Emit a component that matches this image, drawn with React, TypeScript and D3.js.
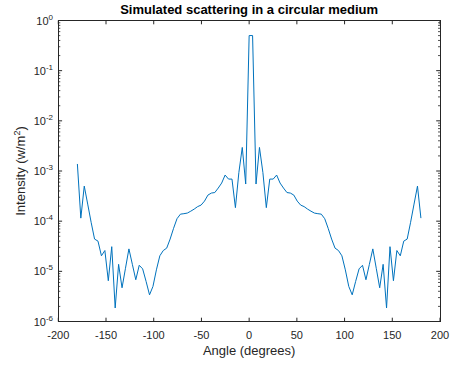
import React from "react";
import * as d3 from "d3";

const angles: number[] = [
  -180, -176.4, -172.8, -169.2, -165.6, -162, -158.4, -154.8, -151.2, -147.6,
  -144, -140.4, -136.8, -133.2, -129.6, -126, -122.4, -118.8, -115.2, -111.6,
  -108, -104.4, -100.8, -97.2, -93.6, -90, -86.4, -82.8, -79.2, -75.6,
  -72, -68.4, -64.8, -61.2, -57.6, -54, -50.4, -46.8, -43.2, -39.6,
  -36, -32.4, -28.8, -25.2, -21.6, -18, -14.4, -10.8, -7.2, -3.6,
  0, 3.6, 7.2, 10.8, 14.4, 18, 21.6, 25.2, 28.8, 32.4,
  36, 39.6, 43.2, 46.8, 50.4, 54, 57.6, 61.2, 64.8, 68.4,
  72, 75.6, 79.2, 82.8, 86.4, 90, 93.6, 97.2, 100.8, 104.4,
  108, 111.6, 115.2, 118.8, 122.4, 126, 129.6, 133.2, 136.8, 140.4,
  144, 147.6, 151.2, 154.8, 158.4, 162, 165.6, 169.2, 172.8, 176.4, 180,
];

const intensity: number[] = [
  1.38e-3, 1.15e-4, 5.0e-4, 2.19e-4, 9.5e-5, 4.4e-5, 4.0e-5, 2.04e-5, 2.6e-5, 6.5e-6,
  3.1e-5, 1.86e-6, 1.38e-5, 4.7e-6, 1.15e-5, 2.8e-5, 1.38e-5, 6.8e-6, 1.32e-5, 1.12e-5,
  6.3e-6, 3.4e-6, 5.0e-6, 1.07e-5, 2.04e-5, 2.6e-5, 2.9e-5, 4.4e-5, 7.2e-5, 1.12e-4,
  1.38e-4, 1.41e-4, 1.45e-4, 1.58e-4, 1.74e-4, 1.95e-4, 2.09e-4, 2.51e-4, 3.31e-4, 3.63e-4,
  3.72e-4, 4.57e-4, 5.75e-4, 8.3e-4, 6.9e-4, 6.9e-4, 1.86e-4, 9.3e-4, 2.95e-3, 5.5e-4,
  0.501, 0.501, 5.5e-4, 2.95e-3, 9.3e-4, 1.86e-4, 6.9e-4, 6.9e-4, 8.3e-4, 5.75e-4,
  4.57e-4, 3.72e-4, 3.63e-4, 3.31e-4, 2.51e-4, 2.09e-4, 1.95e-4, 1.74e-4, 1.58e-4, 1.45e-4,
  1.41e-4, 1.38e-4, 1.12e-4, 7.2e-5, 4.4e-5, 2.9e-5, 2.6e-5, 2.04e-5, 1.07e-5, 5.0e-6,
  3.4e-6, 6.3e-6, 1.12e-5, 1.32e-5, 6.8e-6, 1.38e-5, 2.8e-5, 1.15e-5, 4.7e-6, 1.38e-5,
  1.86e-6, 3.1e-5, 6.5e-6, 2.6e-5, 2.04e-5, 4.0e-5, 4.4e-5, 9.5e-5, 2.19e-4, 5.0e-4, 1.15e-4,
];

const xTicks: number[] = [-200, -150, -100, -50, 0, 50, 100, 150, 200];
const yExponents: number[] = [-6, -5, -4, -3, -2, -1, 0];

const titleText = "Simulated scattering in a circular medium";
const xLabel = "Angle (degrees)";

export default function App() {
  const W = 451, H = 368;
  const left = 58.3, right = 440, top = 20.5, bottom = 321.5;
  const x = d3.scaleLinear().domain([-200, 200]).range([left, right]);
  const y = d3.scaleLog().domain([1e-6, 1]).range([bottom, top]);
  const line = d3
    .line<number>()
    .x((_, i) => x(angles[i]))
    .y((d) => y(d));
  const axisColor = "#262626";
  const tickLen = 3.8;
  const minorLen = 2;
  const minor: number[] = [];
  for (let e = -6; e < 0; e++) {
    for (let m = 2; m <= 9; m++) minor.push(m * Math.pow(10, e));
  }
  const font = "'Liberation Sans', Arial, Helvetica, sans-serif";

  return (
    <svg width={W} height={H} style={{ position: "absolute", left: 0, top: 0, background: "#fff" }}>
      <rect x={0} y={0} width={W} height={H} fill="#fff" />
      <path d={line(intensity) || ""} fill="none" stroke="#0072BD" strokeWidth={1} />
      <rect x={left} y={top} width={right - left} height={bottom - top} fill="none" stroke={axisColor} strokeWidth={1} shapeRendering="crispEdges" />
      {xTicks.map((t) => (
        <g key={"x" + t}>
          <line x1={x(t)} x2={x(t)} y1={bottom} y2={bottom - tickLen} stroke={axisColor} strokeWidth={1} />
          <line x1={x(t)} x2={x(t)} y1={top} y2={top + tickLen} stroke={axisColor} strokeWidth={1} />
          <text x={x(t)} y={339} textAnchor="middle" fontFamily={font} fontSize={11} fill={axisColor}>
            {t}
          </text>
        </g>
      ))}
      {yExponents.map((e) => {
        const v = Math.pow(10, e);
        return (
          <g key={"y" + e}>
            <line x1={left} x2={left + tickLen} y1={y(v)} y2={y(v)} stroke={axisColor} strokeWidth={1} />
            <line x1={right} x2={right - tickLen} y1={y(v)} y2={y(v)} stroke={axisColor} strokeWidth={1} />
            <text x={53} y={y(v) + 4} textAnchor="end" fontFamily={font} fontSize={11} fill={axisColor}>
              10
              <tspan dy={-5} fontSize={8}>{e}</tspan>
            </text>
          </g>
        );
      })}
      {minor.map((v, i) => (
        <g key={"m" + i}>
          <line x1={left} x2={left + minorLen} y1={y(v)} y2={y(v)} stroke={axisColor} strokeWidth={0.8} />
          <line x1={right} x2={right - minorLen} y1={y(v)} y2={y(v)} stroke={axisColor} strokeWidth={0.8} />
        </g>
      ))}
      <text x={(left + right) / 2} y={14} textAnchor="middle" fontFamily={font} fontSize={13} fontWeight="bold" fill="#000">
        {titleText}
      </text>
      <text x={(left + right) / 2} y={355} textAnchor="middle" fontFamily={font} fontSize={13} fill={axisColor}>
        {xLabel}
      </text>
      <text transform={`translate(25,${(top + bottom) / 2}) rotate(-90)`} textAnchor="middle" fontFamily={font} fontSize={13} fill={axisColor}>
        Intensity (w/m
        <tspan dy={-5} fontSize={9}>2</tspan>
        <tspan dy={5}>)</tspan>
      </text>
    </svg>
  );
}
